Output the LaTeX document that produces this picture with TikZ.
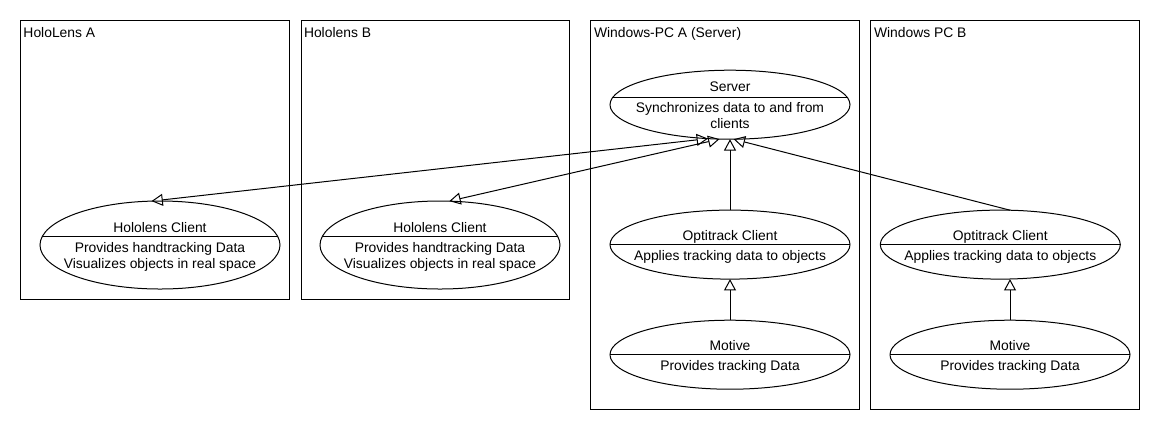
\documentclass[tikz,border=0pt]{standalone}
\usepackage{fontspec}
\setmainfont{Liberation Sans}
\usetikzlibrary{arrows.meta,shapes.geometric}

\begin{document}
\begin{tikzpicture}[x=0.75pt,y=-0.75pt,line width=0.75pt,
  >={Triangle[open,length=8.5pt,width=9pt]},
  every node/.style={font=\fontsize{10.4}{12}\selectfont},
  usecase/.style={draw, ellipse, inner sep=0pt, outer sep=0pt, minimum width=180pt, minimum height=51.75pt},
  txt/.style={anchor=base, align=center, inner sep=0pt}]

\fill[white] (0,0) rectangle (1160,430);
\useasboundingbox (0,0) rectangle (1160,430);

% Draw the device frames
\draw (20.5,20.5) rectangle (289.5,299);
\draw (301,20.5) rectangle (569.5,299);
\draw (590.5,20.5) rectangle (859.5,409);
\draw (870.5,20.5) rectangle (1139.5,409);
\node[anchor=base west, inner sep=0pt] (lblHlA) at (23,37.7) {HoloLens A};
\node[anchor=base west, inner sep=0pt] (lblHlB) at (303.5,37.7) {Hololens B};
\node[anchor=base west, inner sep=0pt] (lblPcA) at (593.5,37.7) {Windows-PC A (Server)};
\node[anchor=base west, inner sep=0pt] (lblPcB) at (873.5,37.7) {Windows PC B};

% Hololens clients (base of a two-line text is its last line)
\node[usecase, minimum height=66pt] (hlcA) at (160,245) {};
\node[txt] (hlcAt) at (160,232.3) {Hololens Client};
\node[txt] (hlcAb) at (160,268.3) {Provides handtracking Data\\Visualizes objects in real space};
\draw (hlcA.center) ++(-117.8,-8.3) -- ++(235.6,0);

\node[usecase, minimum height=66pt] (hlcB) at (440,245) {};
\node[txt] (hlcBt) at (440,232.3) {Hololens Client};
\node[txt] (hlcBb) at (440,268.3) {Provides handtracking Data\\Visualizes objects in real space};
\draw (hlcB.center) ++(-117.8,-8.3) -- ++(235.6,0);

% Server PC
\node[usecase] (srv) at (730,104.7) {};
\node[txt] (srvt) at (730,91.7) {Server};
\node[txt] (srvb) at (730,128.3) {Synchronizes data to and from\\clients};
\draw (srv.center) ++(-117.5,-7) -- ++(235,0);

\node[usecase] (optA) at (730,244.6) {};
\node[txt] (optAt) at (730,240) {Optitrack Client};
\node[txt] (optAb) at (730,260) {Applies tracking data to objects};
\draw (optA.west) -- (optA.east);

\node[usecase] (motA) at (730,354.7) {};
\node[txt] (motAt) at (730,350) {Motive};
\node[txt] (motAb) at (730,370) {Provides tracking Data};
\draw (motA.west) -- (motA.east);

% Second PC
\node[usecase] (optB) at (1000.3,244.6) {};
\node[txt] (optBt) at (1000.3,240) {Optitrack Client};
\node[txt] (optBb) at (1000.3,260) {Applies tracking data to objects};
\draw (optB.west) -- (optB.east);

\node[usecase] (motB) at (1010,354.7) {};
\node[txt] (motBt) at (1010,350) {Motive};
\node[txt] (motBb) at (1010,370) {Provides tracking Data};
\draw (motB.west) -- (motB.east);

% Connections
\draw[<->] (hlcA.101.6) -- (srv.237.6);
\draw[<->] (hlcB.78.4) -- (srv.253.8);
\draw[->] (optA.north) -- (srv.south);
\draw[->] (optB.74.3) -- (srv.276.6);
\draw[->] (motA.north) -- (optA.south);
\draw[->] (motB.north) -- (optB.south -| motB.north);

\end{tikzpicture}
\end{document}
